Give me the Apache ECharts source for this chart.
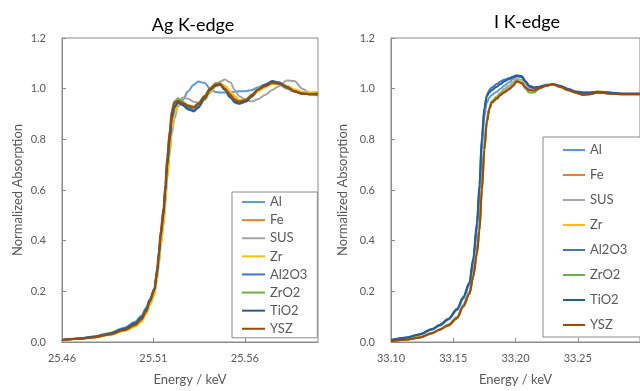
<!DOCTYPE html>
<html><head><meta charset="utf-8">
<script src="https://cdn.jsdelivr.net/npm/echarts@6/dist/echarts.min.js"></script>
<style>html,body{margin:0;padding:0;background:#fff}#c{width:640px;height:391px}</style>
</head><body><div id="c"></div>
<script>
const seriesNames = ['Al', 'Fe', 'SUS', 'Zr', 'Al2O3', 'ZrO2', 'TiO2', 'YSZ'];
const seriesColors = ['#5B9BD5', '#ED7D31', '#A5A5A5', '#FFC000', '#4472C4', '#70AD47', '#255E91', '#9E480E'];

const titleAg = 'Ag K-edge';
const titleI = 'I K-edge';
const yTitle = 'Normalized Absorption';
const xTitle = 'Energy / keV';

// Ag K-edge (keV)
const energyAg = [25.460, 25.470, 25.478, 25.486, 25.494, 25.500, 25.5035, 25.506, 25.508, 25.5105, 25.512, 25.513, 25.514, 25.5155, 25.5165, 25.5175, 25.519, 25.520, 25.5215, 25.5235, 25.526, 25.529, 25.532, 25.5345, 25.538, 25.541, 25.544, 25.5465, 25.549, 25.552, 25.5545, 25.557, 25.5605, 25.564, 25.567, 25.571, 25.575, 25.5785, 25.583, 25.587, 25.5915, 25.596, 25.600];
const agAl    = [0.009, 0.015, 0.023, 0.036, 0.056, 0.080, 0.105, 0.135, 0.170, 0.210, 0.270, 0.330, 0.410, 0.490, 0.580, 0.680, 0.780, 0.860, 0.905, 0.930, 0.955, 0.990, 1.015, 1.028, 1.022, 1.000, 0.987, 0.985, 0.985, 0.986, 0.988, 0.990, 0.990, 0.995, 1.005, 1.015, 1.022, 1.018, 1.000, 0.988, 0.980, 0.977, 0.978];
const agFe    = [0.008, 0.013, 0.019, 0.030, 0.047, 0.066, 0.088, 0.117, 0.155, 0.200, 0.270, 0.340, 0.420, 0.500, 0.590, 0.700, 0.810, 0.890, 0.940, 0.950, 0.942, 0.932, 0.928, 0.940, 0.965, 0.995, 1.012, 1.020, 1.005, 0.982, 0.960, 0.950, 0.955, 0.972, 0.992, 1.008, 1.020, 1.022, 1.010, 0.995, 0.985, 0.980, 0.980];
const agSUS   = [0.008, 0.013, 0.019, 0.030, 0.046, 0.065, 0.086, 0.113, 0.150, 0.190, 0.250, 0.310, 0.380, 0.460, 0.550, 0.650, 0.750, 0.820, 0.880, 0.935, 0.965, 0.960, 0.948, 0.945, 0.955, 0.985, 1.012, 1.028, 1.036, 1.025, 0.995, 0.970, 0.955, 0.950, 0.958, 0.975, 0.995, 1.010, 1.032, 1.030, 1.000, 0.980, 0.972];
const agZr    = [0.007, 0.012, 0.018, 0.028, 0.043, 0.060, 0.080, 0.110, 0.145, 0.185, 0.250, 0.310, 0.380, 0.460, 0.540, 0.640, 0.750, 0.840, 0.900, 0.935, 0.940, 0.935, 0.930, 0.935, 0.955, 0.985, 1.008, 1.018, 1.012, 0.990, 0.970, 0.955, 0.955, 0.968, 0.988, 1.005, 1.018, 1.022, 1.012, 0.998, 0.988, 0.985, 0.988];
const agAl2O3 = [0.008, 0.014, 0.021, 0.033, 0.052, 0.073, 0.097, 0.127, 0.163, 0.205, 0.275, 0.345, 0.425, 0.510, 0.600, 0.700, 0.810, 0.885, 0.930, 0.948, 0.938, 0.925, 0.915, 0.930, 0.962, 0.997, 1.015, 1.017, 0.998, 0.970, 0.950, 0.944, 0.952, 0.972, 0.996, 1.015, 1.027, 1.022, 1.006, 0.990, 0.981, 0.979, 0.980];
const agZrO2  = [0.008, 0.013, 0.019, 0.030, 0.047, 0.067, 0.090, 0.120, 0.158, 0.205, 0.280, 0.350, 0.430, 0.520, 0.610, 0.720, 0.830, 0.910, 0.950, 0.962, 0.948, 0.935, 0.928, 0.942, 0.972, 1.003, 1.022, 1.020, 1.000, 0.975, 0.956, 0.950, 0.958, 0.978, 0.998, 1.015, 1.025, 1.020, 1.005, 0.990, 0.982, 0.980, 0.982];
const agTiO2  = [0.008, 0.014, 0.021, 0.033, 0.052, 0.074, 0.098, 0.128, 0.165, 0.205, 0.270, 0.340, 0.420, 0.500, 0.590, 0.690, 0.800, 0.880, 0.925, 0.945, 0.935, 0.918, 0.910, 0.925, 0.960, 0.995, 1.012, 1.015, 0.995, 0.965, 0.945, 0.940, 0.948, 0.970, 0.995, 1.015, 1.030, 1.025, 1.008, 0.990, 0.980, 0.978, 0.978];
const agYSZ   = [0.008, 0.013, 0.019, 0.030, 0.047, 0.067, 0.090, 0.120, 0.160, 0.210, 0.290, 0.360, 0.440, 0.530, 0.620, 0.730, 0.840, 0.910, 0.945, 0.952, 0.942, 0.932, 0.925, 0.940, 0.970, 1.000, 1.015, 1.018, 1.000, 0.975, 0.955, 0.948, 0.955, 0.975, 0.995, 1.010, 1.022, 1.020, 1.005, 0.990, 0.980, 0.978, 0.978];

// I K-edge (keV)
const energyI = [33.100, 33.113, 33.123, 33.133, 33.139, 33.146, 33.153, 33.158, 33.163, 33.166, 33.169, 33.171, 33.173, 33.175, 33.177, 33.179, 33.181, 33.185, 33.188, 33.191, 33.195, 33.198, 33.201, 33.205, 33.208, 33.211, 33.215, 33.219, 33.225, 33.230, 33.236, 33.242, 33.248, 33.254, 33.260, 33.266, 33.276, 33.286, 33.300];
const iAl    = [0.007, 0.017, 0.029, 0.048, 0.064, 0.088, 0.125, 0.170, 0.225, 0.310, 0.440, 0.570, 0.760, 0.890, 0.945, 0.965, 0.975, 0.988, 1.000, 1.012, 1.025, 1.038, 1.048, 1.045, 1.025, 1.008, 1.002, 1.006, 1.013, 1.016, 1.010, 0.998, 0.988, 0.983, 0.984, 0.987, 0.984, 0.980, 0.980];
const iFe    = [0.003, 0.010, 0.018, 0.035, 0.048, 0.066, 0.095, 0.142, 0.192, 0.260, 0.355, 0.450, 0.610, 0.770, 0.875, 0.922, 0.948, 0.962, 0.978, 0.988, 1.000, 1.013, 1.030, 1.024, 1.006, 0.996, 0.994, 1.003, 1.013, 1.016, 1.007, 0.994, 0.984, 0.977, 0.979, 0.986, 0.981, 0.978, 0.978];
const iSUS   = [0.004, 0.011, 0.020, 0.037, 0.050, 0.069, 0.100, 0.148, 0.200, 0.270, 0.370, 0.470, 0.640, 0.790, 0.880, 0.925, 0.950, 0.970, 0.985, 1.000, 1.012, 1.025, 1.038, 1.035, 1.015, 1.000, 0.997, 1.004, 1.013, 1.017, 1.009, 0.997, 0.987, 0.980, 0.981, 0.985, 0.982, 0.979, 0.979];
const iZr    = [0.003, 0.010, 0.018, 0.034, 0.047, 0.065, 0.093, 0.138, 0.188, 0.255, 0.345, 0.435, 0.590, 0.750, 0.865, 0.920, 0.950, 0.968, 0.982, 0.992, 1.003, 1.016, 1.032, 1.025, 1.005, 0.992, 0.995, 1.006, 1.015, 1.016, 1.006, 0.996, 0.988, 0.980, 0.983, 0.990, 0.984, 0.980, 0.980];
const iAl2O3 = [0.008, 0.018, 0.030, 0.050, 0.066, 0.090, 0.128, 0.175, 0.230, 0.320, 0.460, 0.600, 0.800, 0.920, 0.975, 0.995, 1.005, 1.018, 1.028, 1.035, 1.042, 1.048, 1.053, 1.050, 1.030, 1.012, 1.005, 1.008, 1.015, 1.018, 1.012, 1.000, 0.990, 0.985, 0.985, 0.988, 0.985, 0.980, 0.980];
const iZrO2  = [0.003, 0.010, 0.018, 0.035, 0.048, 0.066, 0.094, 0.140, 0.190, 0.258, 0.350, 0.440, 0.600, 0.760, 0.870, 0.922, 0.950, 0.966, 0.980, 0.990, 1.002, 1.015, 1.033, 1.022, 1.000, 0.985, 0.985, 1.000, 1.012, 1.017, 1.008, 0.994, 0.984, 0.976, 0.978, 0.985, 0.980, 0.978, 0.978];
const iTiO2  = [0.008, 0.018, 0.031, 0.051, 0.067, 0.091, 0.130, 0.178, 0.235, 0.330, 0.470, 0.620, 0.810, 0.925, 0.970, 0.985, 0.995, 1.008, 1.018, 1.028, 1.038, 1.045, 1.050, 1.048, 1.028, 1.010, 1.003, 1.006, 1.013, 1.017, 1.010, 0.998, 0.988, 0.984, 0.984, 0.986, 0.984, 0.980, 0.980];
const iYSZ   = [0.003, 0.010, 0.018, 0.035, 0.048, 0.066, 0.094, 0.140, 0.190, 0.257, 0.350, 0.440, 0.600, 0.760, 0.870, 0.920, 0.945, 0.960, 0.975, 0.985, 0.998, 1.010, 1.028, 1.022, 1.005, 0.995, 0.993, 1.002, 1.012, 1.017, 1.008, 0.995, 0.985, 0.976, 0.978, 0.985, 0.980, 0.978, 0.978];

const yTicks = [0, 0.2, 0.4, 0.6, 0.8, 1.0, 1.2];
const agStart = 25.46, agEnd = 25.60, iStart = 33.10, iEnd = 33.30, xStep = 0.05;

const agSets = [agAl, agFe, agSUS, agZr, agAl2O3, agZrO2, agTiO2, agYSZ];
const iSets = [iAl, iFe, iSUS, iZr, iAl2O3, iZrO2, iTiO2, iYSZ];

const FONT = 'Lato';
const TXT = '#595959';
const AX = '#8a8a8a';

function xAxisCfg(gi, start, end) {
  return {
    type: 'value', gridIndex: gi, min: 0, max: +(end - start).toFixed(4), interval: xStep,
    name: xTitle, nameLocation: 'middle', nameGap: 31,
    nameTextStyle: { fontFamily: FONT, fontSize: 13, color: TXT },
    axisLine: { show: true, lineStyle: { color: AX, width: 1 } },
    axisTick: { show: true, inside: true, length: 4, lineStyle: { color: AX } },
    splitLine: { show: false },
    axisLabel: { fontFamily: FONT, fontSize: 11, color: TXT, margin: 11, showMaxLabel: false,
      formatter: v => (start + v).toFixed(2) }
  };
}
function yAxisCfg(gi, gap) {
  return {
    type: 'value', gridIndex: gi, min: yTicks[0], max: yTicks[yTicks.length - 1], interval: 0.2,
    name: yTitle, nameLocation: 'middle', nameGap: gap,
    nameTextStyle: { fontFamily: FONT, fontSize: 13, color: TXT },
    axisLine: { show: true, lineStyle: { color: AX, width: 1 } },
    axisTick: { show: true, inside: true, length: 4, lineStyle: { color: AX } },
    splitLine: { show: false },
    axisLabel: { fontFamily: FONT, fontSize: 11, color: TXT, margin: 16, formatter: v => v.toFixed(1) }
  };
}
const series = [];
seriesNames.forEach((n, k) => {
  series.push({ name: n, type: 'line', xAxisIndex: 0, yAxisIndex: 0, symbol: 'none', animation: false,
    smooth: 0.3, smoothMonotone: 'x',
    lineStyle: { width: 2, color: seriesColors[k] }, itemStyle: { color: seriesColors[k] },
    data: energyAg.map((e, i) => [e - agStart, agSets[k][i]]) });
});
seriesNames.forEach((n, k) => {
  series.push({ name: n, type: 'line', xAxisIndex: 1, yAxisIndex: 1, symbol: 'none', animation: false,
    smooth: 0.3, smoothMonotone: 'x',
    lineStyle: { width: 2, color: seriesColors[k] }, itemStyle: { color: seriesColors[k] },
    data: energyI.map((e, i) => [e - iStart, iSets[k][i]]) });
});

const chart = echarts.init(document.getElementById('c'), null, { renderer: 'canvas' });
chart.setOption({
  animation: false,
  backgroundColor: '#fff',
  textStyle: { fontFamily: FONT },
  title: [
    { text: titleAg, left: 188, top: 11, textAlign: 'center', textStyle: { fontFamily: FONT, fontSize: 18, fontWeight: 'normal', color: '#000' } },
    { text: titleI, left: 522, top: 8, textAlign: 'center', textStyle: { fontFamily: FONT, fontSize: 18, fontWeight: 'normal', color: '#000' } }
  ],
  grid: [
    { left: 62, top: 38, width: 256, height: 308, show: true, borderColor: AX, borderWidth: 1, backgroundColor: 'transparent' },
    { left: 391, top: 38, width: 300, height: 308, show: true, borderColor: AX, borderWidth: 1, backgroundColor: 'transparent' }
  ],
  xAxis: [xAxisCfg(0, agStart, agEnd), xAxisCfg(1, iStart, iEnd)],
  yAxis: [yAxisCfg(0, 38), yAxisCfg(1, 42)],
  legend: [
    { data: seriesNames, orient: 'vertical', left: 232, top: 192, icon: 'rect', itemWidth: 23, itemHeight: 2,
      itemGap: 4, padding: [3, 10, 2, 10], borderColor: AX, borderWidth: 1, backgroundColor: '#fff',
      textStyle: { fontFamily: FONT, fontSize: 13, color: TXT, lineHeight: 14.1 } },
    { data: seriesNames, orient: 'vertical', left: 543, top: 137, icon: 'rect', itemWidth: 22, itemHeight: 2,
      itemGap: 11, padding: [6, 40, 5, 20], borderColor: AX, borderWidth: 1, backgroundColor: '#fff',
      textStyle: { fontFamily: FONT, fontSize: 13, color: TXT, lineHeight: 14 } }
  ],
  series: series
});
</script></body></html>
